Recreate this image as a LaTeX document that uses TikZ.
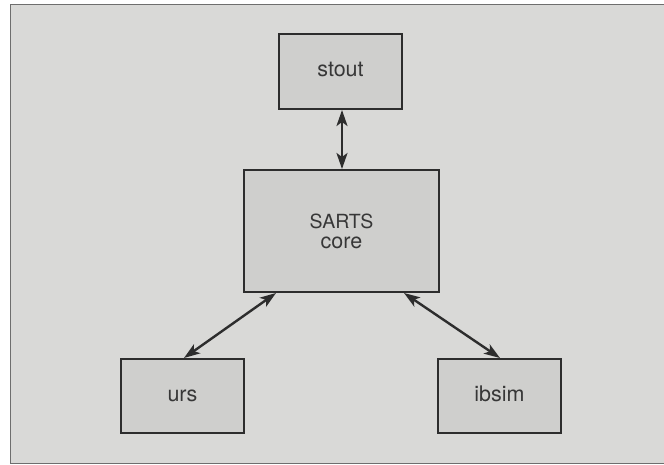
\documentclass[tikz,border=0pt]{standalone}
\usepackage{fontspec}
\setmainfont{TeX Gyre Heros}
\usetikzlibrary{arrows.meta}
\definecolor{bgpaper}{RGB}{217,217,215}
\definecolor{boxfill}{RGB}{207,207,205}
\definecolor{ink}{RGB}{45,45,45}
\definecolor{txt}{RGB}{55,55,55}
\definecolor{framecol}{RGB}{110,110,110}
\tikzset{
  blk/.style={draw=ink, line width=2pt, fill=boxfill, inner sep=0pt,
    font=\fontsize{21.5}{20}\selectfont, text=txt, align=center},
  oneline/.style={text height=11pt, text depth=1pt},
  link/.style={draw=ink, line width=2.4pt,
    {Stealth[length=16pt,width=11pt,inset=4pt]}-{Stealth[length=16pt,width=11pt,inset=4pt]}}
}
\begin{document}
\begin{tikzpicture}[x=1pt,y=-1pt]
\useasboundingbox (0,0) rectangle (664,464);
\fill[white] (0,0) rectangle (664,464);
\draw[framecol, line width=1pt, fill=bgpaper] (10,4) rectangle (670,463);
\node[blk, oneline, minimum width=123pt, minimum height=75pt] (stout) at (340.5,71.5) {stout};
\node[blk, minimum width=195pt, minimum height=122pt] (core) at (341.5,231) {{\fontsize{19.5}{20}\selectfont SARTS}\\core};
\node[blk, oneline, minimum width=123pt, minimum height=74pt] (urs) at (182.5,396) {urs};
\node[blk, oneline, minimum width=123pt, minimum height=74pt] (ibsim) at (499.5,396) {ibsim};
\coordinate (a1) at (342,292);
\draw[link] (stout.south -| a1) -- (core.north -| a1);
\draw[link] ([xshift=33pt]core.south west) -- (urs.north -| 184,0);
\draw[link] ([xshift=-36pt]core.south east) -- (ibsim.north -| 500,0);
\end{tikzpicture}
\end{document}
